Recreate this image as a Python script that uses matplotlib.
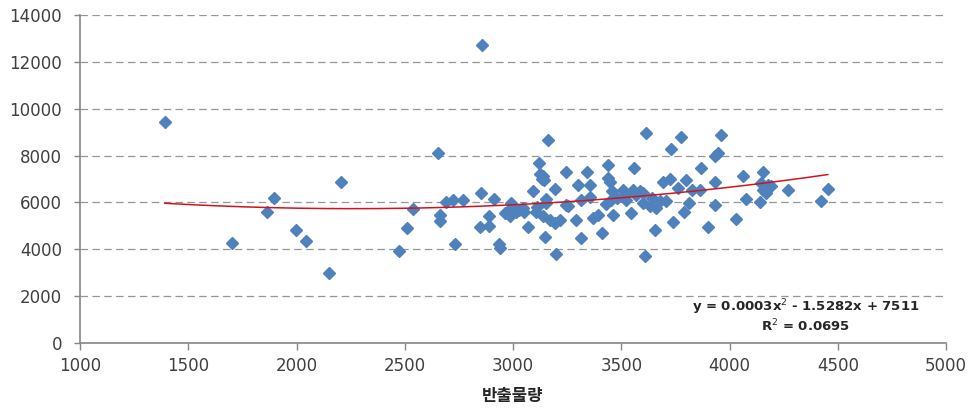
import numpy as np
import matplotlib
matplotlib.use("Agg")
import matplotlib.pyplot as plt

# ---- data ----
x_vals = [1392, 1703, 1862, 1898, 1996, 2045, 2150, 2207, 2474, 2510, 2540,
          2653, 2662, 2662, 2690, 2723, 2731, 2769, 2854, 2858, 2846, 2889,
          2889, 2911, 2935, 2938, 2962, 2975, 2985, 2993, 3005, 3016, 3030,
          3046, 3069, 3092, 3108, 3120, 3125, 3135, 3140, 3145, 3139, 3146,
          3154, 3154, 3162, 3169, 3192, 3192, 3200, 3215, 3246, 3246, 3254,
          3292, 3300, 3315, 3315, 3342, 3354, 3354, 3369, 3392, 3412, 3431,
          3439, 3439, 3446, 3454, 3458, 3462, 3508, 3523, 3546, 3554, 3557,
          3585, 3600, 3612, 3616, 3631, 3658, 3661, 3677, 3692, 3708, 3723,
          3731, 3738, 3761, 3777, 3792, 3800, 3815, 3827, 3862, 3869, 3900,
          3931, 3931, 3935, 3946, 3962, 4028, 4062, 4077, 4139, 4146, 4154,
          4154, 4169, 4177, 4192, 4269, 4423, 4454,
          3480, 3520, 3570, 3640, 3600, 3050, 3110]
y_vals = [9440, 4270, 5590, 6210, 4830, 4360, 2980, 6860, 3930, 4920, 5730,
          8120, 5480, 5200, 6030, 6110, 4230, 6100, 6400, 12740, 4970, 5400,
          4980, 6140, 4230, 4050, 5540, 5650, 5400, 5970, 5700, 5610, 5680,
          5760, 4950, 6500, 5610, 7700, 7200, 7000, 7120, 6950, 5400, 4540,
          5980, 6150, 8650, 5260, 5120, 6570, 3800, 5260, 7280, 5900, 5830,
          5260, 6750, 6110, 4470, 7280, 6750, 6250, 5330, 5470, 4690, 5940,
          7580, 7040, 6890, 6110, 6470, 5470, 6510, 6110, 5540, 6540, 7470,
          6470, 5970, 3720, 8960, 5830, 4830, 5760, 6040, 6890, 6040, 7000,
          8280, 5180, 6610, 8790, 5610, 6970, 5970, 6540, 6510, 7470, 4970,
          5900, 7990, 6890, 8110, 8890, 5290, 7140, 6140, 6000, 6830, 7320,
          6540, 6420, 6750, 6680, 6510, 6040, 6570,
          6200, 6350, 6300, 6200, 6400, 5600, 5800]
x_ticks = [1000, 1500, 2000, 2500, 3000, 3500, 4000, 4500, 5000]
y_ticks = [0, 2000, 4000, 6000, 8000, 10000, 12000, 14000]
x_label = "반출물량"
eq_text = "y = 0.0003x$^{2}$ - 1.5282x + 7511"
r2_text = "R$^{2}$ = 0.0695"

plt.rcParams['font.family'] = ['DejaVu Sans', 'Noto Sans CJK KR']

fig = plt.figure(figsize=(9.74, 4.15), dpi=100)
ax = fig.add_axes([80 / 974, 1 - 343 / 415, (946 - 80) / 974, (343 - 15) / 415])

x = np.array(x_vals, dtype=float)
y = np.array(y_vals, dtype=float)

ax.plot(x, y, linestyle='none', marker='D', markersize=5.8,
        color='#4F81BD', markeredgecolor='#4F81BD', zorder=3)

coef = np.polyfit(x, y, 2)
xs = np.linspace(x.min(), x.max(), 200)
ax.plot(xs, np.polyval(coef, xs), color='#D0141E', linewidth=1.1, zorder=4)

ax.set_xlim(x_ticks[0], x_ticks[-1])
ax.set_ylim(y_ticks[0], y_ticks[-1])
ax.set_xticks(x_ticks)
ax.set_yticks(y_ticks)
ax.yaxis.grid(True, color='#969696', linestyle=(0, (6, 3.5)), linewidth=0.9)
ax.set_axisbelow(True)

for s in ['top', 'right']:
    ax.spines[s].set_visible(False)
for s in ['left', 'bottom']:
    ax.spines[s].set_color('#868686')
    ax.spines[s].set_linewidth(1.2)

ax.tick_params(axis='x', direction='out', length=5, width=1, color='#868686',
               labelsize=12, labelcolor='#404040', pad=5)
ax.tick_params(axis='y', direction='out', length=4, width=1, color='#868686',
               labelsize=12, labelcolor='#404040', pad=9)

ax.set_xlabel(x_label, family=['Noto Sans CJK KR'], fontweight='bold',
              fontsize=12, color='#262626', labelpad=9)

fig.text(806 / 974, 1 - 307 / 415, eq_text, fontsize=9.5, fontweight='bold',
         ha='center', va='center', color='#262626')
fig.text(806 / 974, 1 - 326 / 415, r2_text, fontsize=9.5, fontweight='bold',
         ha='center', va='center', color='#262626')

fig.savefig('out.png', dpi=100)
